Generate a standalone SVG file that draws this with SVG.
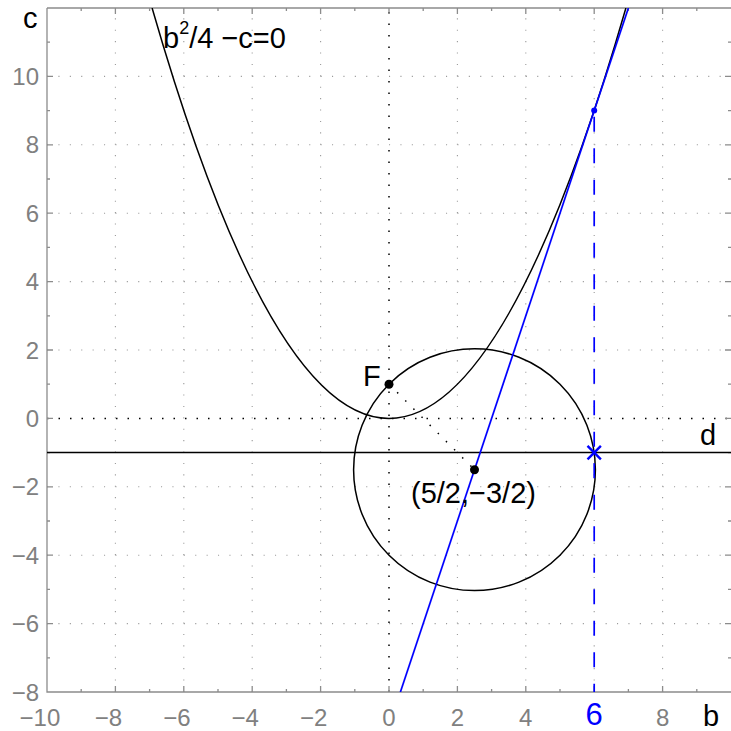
<svg xmlns="http://www.w3.org/2000/svg" width="731" height="731" viewBox="0 0 731 731">
<style>
.frame{fill:none;stroke:#8c8c8c;stroke-width:1.3}
.grid{fill:none;stroke:#9a9a9a;stroke-width:1.1;stroke-dasharray:1.1 10.3}
.axdot{fill:none;stroke:#000;stroke-width:1.5;stroke-dasharray:1.5 10}
.curve{fill:none;stroke:#000;stroke-width:1.5}
.blue{fill:none;stroke:#0000ff;stroke-width:1.7}
.tick{font-family:"Liberation Sans",Arial,sans-serif;font-size:24px;fill:#808080}
.lab{font-family:"Liberation Sans",Arial,sans-serif;font-size:29px;fill:#000}
</style>
<defs><clipPath id="plot"><rect x="47" y="8" width="684" height="684"/></clipPath></defs>
<rect width="731" height="731" fill="#fff"/>
<g id="grid">
<path class="grid" d="M115.4,692V8M183.8,692V8M252.2,692V8M320.6,692V8M457.4,692V8M525.8,692V8M594.2,692V8M662.6,692V8"/>
<path class="grid" d="M47,623.6H731M47,555.2H731M47,486.8H731M47,350H731M47,281.6H731M47,213.2H731M47,144.8H731M47,76.4H731"/>
<path class="axdot" d="M389,692V8M47,418.4H731"/>
</g>
<g id="frame">
<path class="frame" d="M47,8V692H731M47,8H731"/>
<path class="frame" d="M115.4,692v-6M183.8,692v-6M252.2,692v-6M320.6,692v-6M389,692v-6M457.4,692v-6M525.8,692v-6M594.2,692v-6M662.6,692v-6M81.2,692v-3M149.6,692v-3M218,692v-3M286.4,692v-3M354.8,692v-3M423.2,692v-3M491.6,692v-3M560,692v-3M628.4,692v-3M696.8,692v-3M115.4,8v6M183.8,8v6M252.2,8v6M320.6,8v6M389,8v6M457.4,8v6M525.8,8v6M594.2,8v6M662.6,8v6M81.2,8v3M149.6,8v3M218,8v3M286.4,8v3M354.8,8v3M423.2,8v3M491.6,8v3M560,8v3M628.4,8v3M696.8,8v3M47,623.6h6M47,555.2h6M47,486.8h6M47,418.4h6M47,350h6M47,281.6h6M47,213.2h6M47,144.8h6M47,76.4h6M47,657.8h3M47,589.4h3M47,521h3M47,452.6h3M47,384.2h3M47,315.8h3M47,247.4h3M47,179h3M47,110.6h3M47,42.2h3M731,623.6h-6M731,555.2h-6M731,486.8h-6M731,418.4h-6M731,350h-6M731,281.6h-6M731,213.2h-6M731,144.8h-6M731,76.4h-6M731,657.8h-3M731,589.4h-3M731,521h-3M731,452.6h-3M731,384.2h-3M731,315.8h-3M731,247.4h-3M731,179h-3M731,110.6h-3M731,42.2h-3"/>
</g>
<g id="ticklabels" class="tick">
<text x="60.3" y="726" text-anchor="end">−10</text>
<text x="122.1" y="726" text-anchor="end">−8</text>
<text x="190.5" y="726" text-anchor="end">−6</text>
<text x="258.9" y="726" text-anchor="end">−4</text>
<text x="327.3" y="726" text-anchor="end">−2</text>
<text x="389" y="726" text-anchor="middle">0</text>
<text x="457.4" y="726" text-anchor="middle">2</text>
<text x="525.8" y="726" text-anchor="middle">4</text>
<text x="662.6" y="726" text-anchor="middle">8</text>
<text x="39" y="85" text-anchor="end">10</text>
<text x="39" y="153.4" text-anchor="end">8</text>
<text x="39" y="221.8" text-anchor="end">6</text>
<text x="39" y="290.2" text-anchor="end">4</text>
<text x="39" y="358.6" text-anchor="end">2</text>
<text x="39" y="427" text-anchor="end">0</text>
<text x="39" y="495.4" text-anchor="end">−2</text>
<text x="39" y="563.8" text-anchor="end">−4</text>
<text x="39" y="632.2" text-anchor="end">−6</text>
<text x="39" y="700.6" text-anchor="end">−8</text>
</g>
<g id="connectors" clip-path="url(#plot)">
<path id="parabola" class="curve" d="M152.1,8Q389,828.8 625.9,8"/>
<circle id="circle" class="curve" cx="474.5" cy="469.7" r="120.9"/>
<path id="line-d" class="curve" d="M47,452.6H731"/>
<path id="radius" class="axdot" d="M389,384.2L474.5,469.7"/>
<path id="tangent" class="blue" d="M400.4,692L628.4,8"/>
<path id="vertical" class="blue" stroke-width="2" stroke-dasharray="15 16.5" stroke-dashoffset="25.3" d="M594.2,110.6V692"/>
</g>
<g id="node-F"><circle cx="389" cy="384.2" r="4.5" fill="#000"/><text class="lab" x="363" y="386">F</text></g>
<g id="node-center"><circle cx="474.5" cy="469.7" r="4.5" fill="#000"/><text class="lab" x="411" y="503">(5/2,−3/2)</text></g>
<g id="node-tangent-point"><circle cx="594.2" cy="110.6" r="3" fill="#0000ff"/></g>
<g id="node-X"><path d="M587.5,445.9L600.9,459.3M600.9,445.9L587.5,459.3" stroke="#0000ff" stroke-width="2.4" fill="none"/></g>
<g id="labels">
<text class="lab" x="163" y="48">b<tspan font-size="18" dy="-14">2</tspan><tspan dy="14">/4 −c=0</tspan></text>
<text class="lab" x="700" y="445">d</text>
<text class="lab" x="23" y="28">c</text>
<text class="lab" x="703" y="726">b</text>
<text x="594.2" y="725" text-anchor="middle" font-family="'Liberation Sans',Arial,sans-serif" font-size="31" fill="#0000ff">6</text>
</g>
</svg>
